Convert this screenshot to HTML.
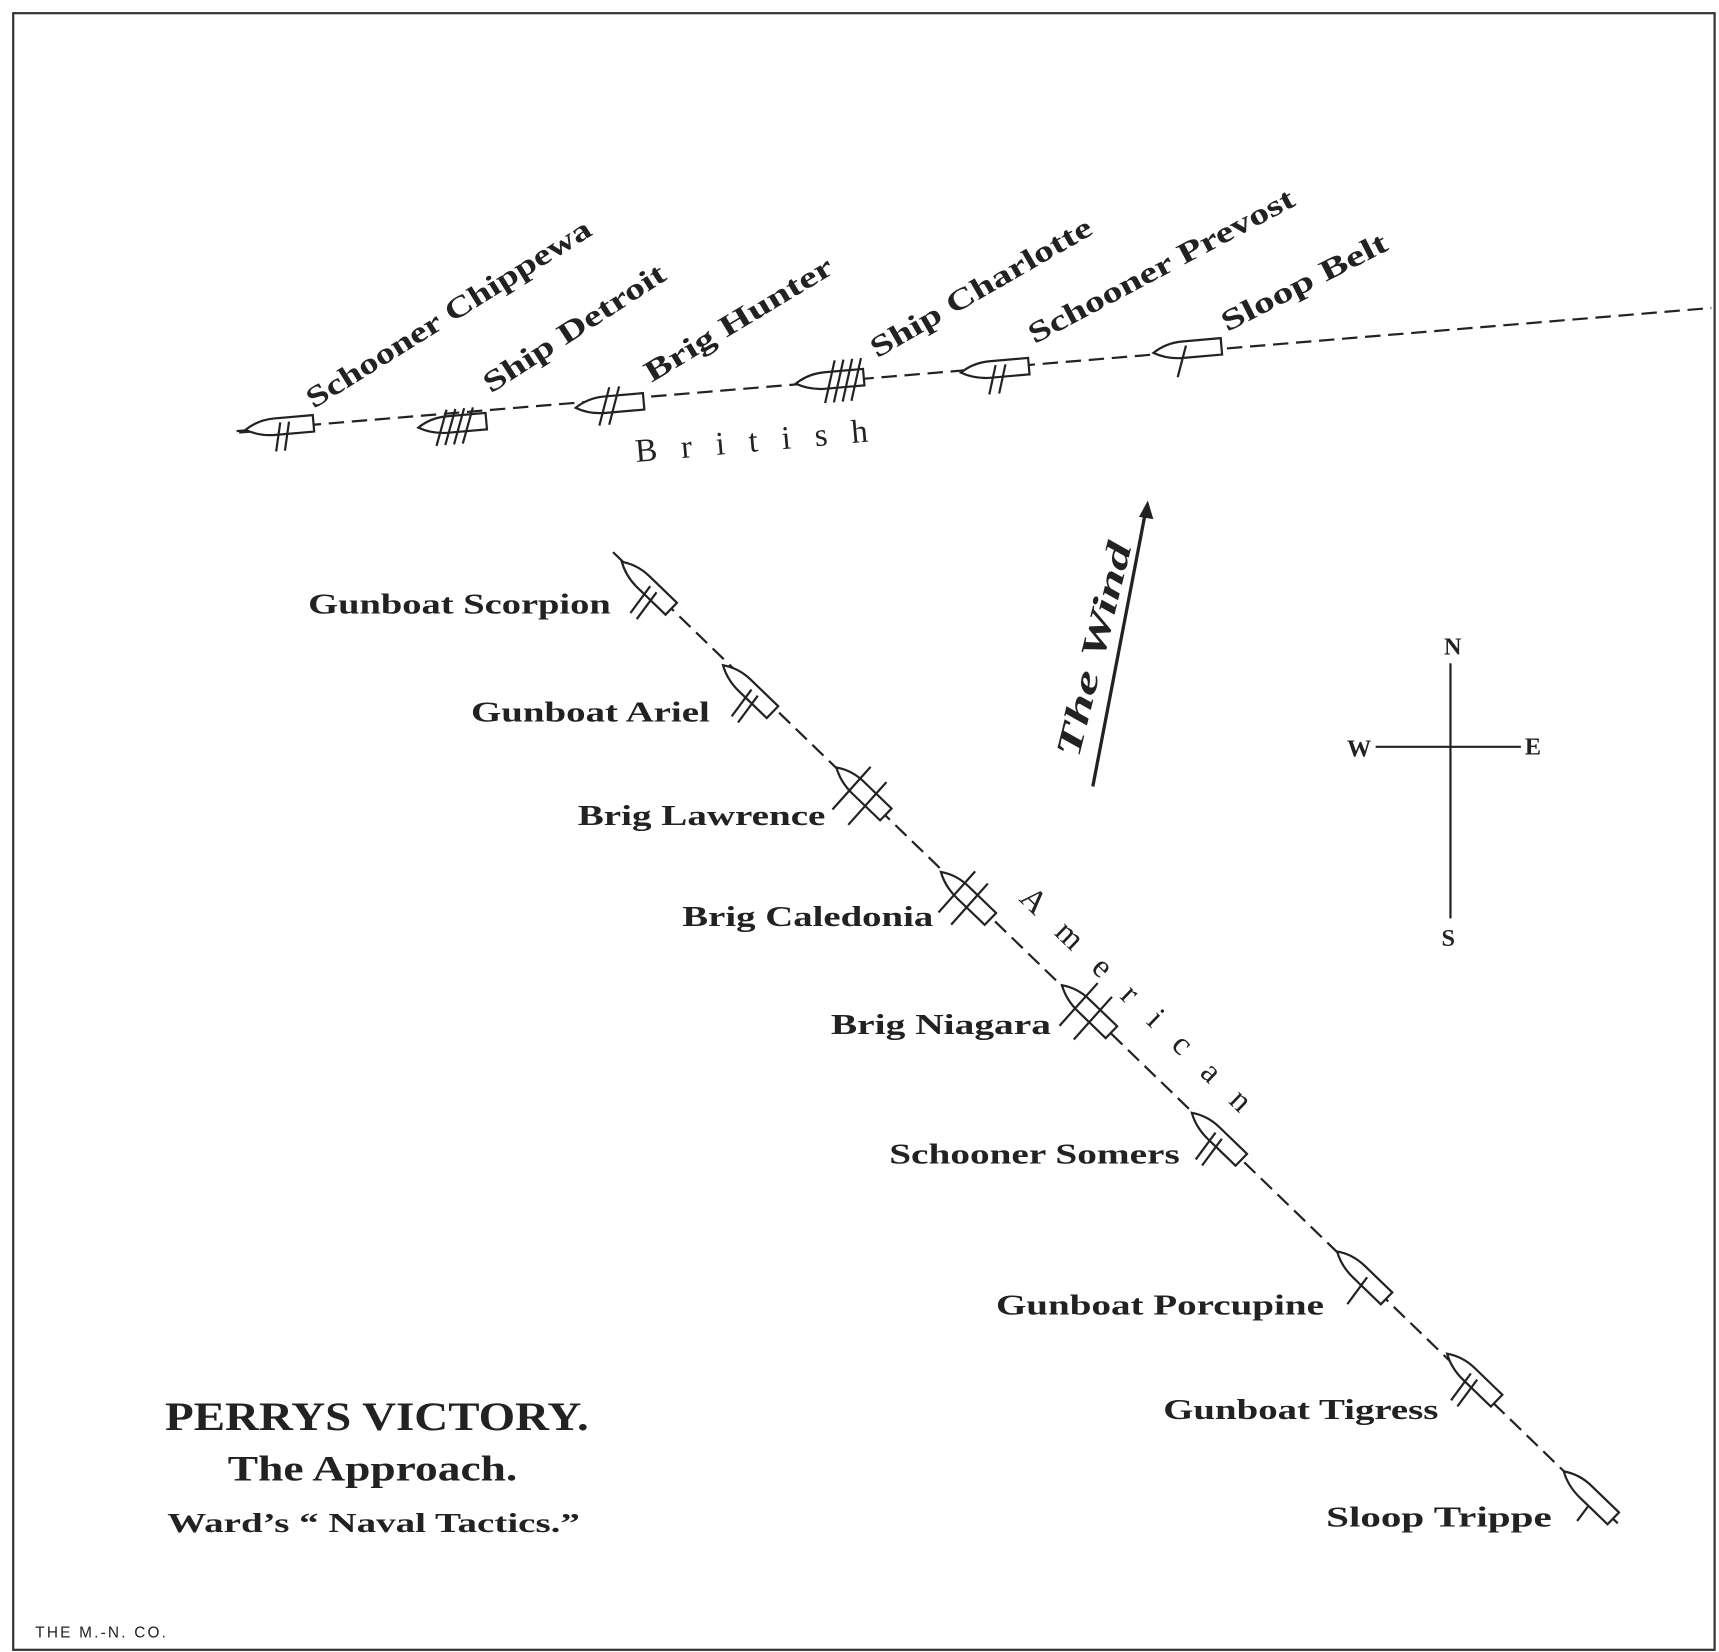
<!DOCTYPE html>
<html><head><meta charset="utf-8"><style>
html,body{margin:0;padding:0;background:#fff}
svg{display:block}
text{font-family:"Liberation Serif",serif;fill:#222}
.b{font-weight:bold}
</style></head><body>
<svg width="1719" height="1652" viewBox="0 0 1562 1502" preserveAspectRatio="none" xmlns="http://www.w3.org/2000/svg">
<defs>
<g id="hull"><path d="M-32,0 Q-20,-8 -5,-8 L30,-8 L30,7 L-5,7 Q-20,7 -32,0 Z" fill="#fff" stroke="#222" stroke-width="2"/></g>
</defs>
<rect x="12" y="12" width="1546" height="1488" fill="none" stroke="#333" stroke-width="2"/>
<line x1="215" y1="392" x2="1555" y2="280" stroke="#222" stroke-width="2" stroke-dasharray="14,7"/>
<g stroke="#222" stroke-width="2" fill="none">
<g transform="translate(255,388) rotate(-5)"><use href="#hull"/><line x1="0" y1="-4" x2="-6" y2="22"/><line x1="8" y1="-4" x2="2" y2="22"/><line x1="-38" y1="2" x2="-28" y2="2"/></g>
<g transform="translate(412,386) rotate(-5)"><use href="#hull"/><line x1="-5" y1="-14" x2="-17" y2="18"/><line x1="3" y1="-14" x2="-9" y2="18"/><line x1="11" y1="-14" x2="-1" y2="18"/><line x1="19" y1="-14" x2="7" y2="18"/></g>
<g transform="translate(555,368) rotate(-5)"><use href="#hull"/><line x1="0" y1="-16" x2="-12" y2="18"/><line x1="9" y1="-16" x2="-3" y2="18"/></g>
<g transform="translate(755,346) rotate(-5)"><use href="#hull"/><line x1="5" y1="-18" x2="-7" y2="20"/><line x1="13" y1="-18" x2="1" y2="20"/><line x1="21" y1="-18" x2="9" y2="20"/><line x1="29" y1="-18" x2="17" y2="20"/></g>
<g transform="translate(905,336) rotate(-5)"><use href="#hull"/><line x1="0" y1="-4" x2="-8" y2="22"/><line x1="9" y1="-4" x2="1" y2="22"/></g>
<g transform="translate(1080,318) rotate(-5)"><use href="#hull"/><line x1="-2" y1="-4" x2="-12" y2="24"/></g>
</g>
<g class="b" font-size="27">
<text transform="translate(285,372) rotate(-32)" textLength="300" lengthAdjust="spacingAndGlyphs">Schooner Chippewa</text>
<text transform="translate(446,358) rotate(-33)" textLength="192" lengthAdjust="spacingAndGlyphs">Ship Detroit</text>
<text transform="translate(592,348) rotate(-31)" textLength="195" lengthAdjust="spacingAndGlyphs">Brig Hunter</text>
<text transform="translate(797,326) rotate(-30)" textLength="228" lengthAdjust="spacingAndGlyphs">Ship Charlotte</text>
<text transform="translate(940,313) rotate(-28)" textLength="270" lengthAdjust="spacingAndGlyphs">Schooner Prevost</text>
<text transform="translate(1115,302) rotate(-27)" textLength="166" lengthAdjust="spacingAndGlyphs">Sloop Belt</text>
</g>
<text transform="translate(578,420) rotate(-5)" font-size="30" textLength="212" lengthAdjust="spacing">British</text>
<line x1="557" y1="502" x2="1470" y2="1385" stroke="#222" stroke-width="2" stroke-dasharray="14,7"/>
<g stroke="#222" stroke-width="2" fill="none">
<g transform="translate(588,533) rotate(44)"><use href="#hull"/><line x1="10" y1="-2" x2="14" y2="28"/><line x1="2" y1="-2" x2="6" y2="28"/></g>
<g transform="translate(680,627) rotate(44)"><use href="#hull"/><line x1="10" y1="-2" x2="14" y2="28"/><line x1="2" y1="-2" x2="6" y2="28"/></g>
<g transform="translate(783,720) rotate(44)"><use href="#hull"/><line x1="-10" y1="-22" x2="-8" y2="30"/><line x1="10" y1="-22" x2="12" y2="30"/></g>
<g transform="translate(878,815) rotate(44)"><use href="#hull"/><line x1="-10" y1="-22" x2="-8" y2="28"/><line x1="6" y1="-22" x2="8" y2="28"/></g>
<g transform="translate(988,918) rotate(44)"><use href="#hull"/><line x1="-10" y1="-24" x2="-8" y2="28"/><line x1="8" y1="-24" x2="10" y2="28"/></g>
<g transform="translate(1106,1034) rotate(44)"><use href="#hull"/><line x1="4" y1="-2" x2="8" y2="28"/><line x1="-4" y1="-2" x2="0" y2="28"/></g>
<g transform="translate(1238,1160) rotate(44)"><use href="#hull"/><line x1="4" y1="-2" x2="8" y2="28"/></g>
<g transform="translate(1338,1253) rotate(44)"><use href="#hull"/><line x1="4" y1="-2" x2="8" y2="28"/><line x1="-4" y1="-2" x2="0" y2="28"/></g>
<g transform="translate(1444,1360) rotate(44)"><use href="#hull"/><line x1="6" y1="8" x2="8" y2="24"/></g>
</g>
<g class="b" font-size="26">
<text x="280" y="558" textLength="275" lengthAdjust="spacingAndGlyphs">Gunboat Scorpion</text>
<text x="428" y="656" textLength="217" lengthAdjust="spacingAndGlyphs">Gunboat Ariel</text>
<text x="525" y="750" textLength="225" lengthAdjust="spacingAndGlyphs">Brig Lawrence</text>
<text x="620" y="842" textLength="228" lengthAdjust="spacingAndGlyphs">Brig Caledonia</text>
<text x="755" y="940" textLength="200" lengthAdjust="spacingAndGlyphs">Brig Niagara</text>
<text x="808" y="1058" textLength="264" lengthAdjust="spacingAndGlyphs">Schooner Somers</text>
<text x="905" y="1195" textLength="298" lengthAdjust="spacingAndGlyphs">Gunboat Porcupine</text>
<text x="1057" y="1290" textLength="250" lengthAdjust="spacingAndGlyphs">Gunboat Tigress</text>
<text x="1205" y="1388" textLength="205" lengthAdjust="spacingAndGlyphs">Sloop Trippe</text>
</g>
<text transform="translate(925,818) rotate(44)" font-size="30" textLength="280" lengthAdjust="spacing">American</text>
<line x1="993" y1="715" x2="1040" y2="470" stroke="#222" stroke-width="3"/>
<path d="M1043,455 L1048,472 L1035,470 Z" fill="#222"/>
<text transform="translate(980,690) rotate(-76)" class="b" font-size="32" font-style="italic" textLength="200" lengthAdjust="spacingAndGlyphs">The Wind</text>
<g stroke="#222" stroke-width="2">
<line x1="1318" y1="603" x2="1318" y2="835"/>
<line x1="1250" y1="679" x2="1382" y2="679"/>
</g>
<g class="b" font-size="22" text-anchor="middle">
<text x="1320" y="595">N</text>
<text x="1316" y="860">S</text>
<text x="1235" y="688">W</text>
<text x="1393" y="686">E</text>
</g>
<g class="b">
<text x="150" y="1300" font-size="37" textLength="385" lengthAdjust="spacingAndGlyphs">PERRYS VICTORY.</text>
<text x="207" y="1346" font-size="33" textLength="263" lengthAdjust="spacingAndGlyphs">The Approach.</text>
<text x="152" y="1393" font-size="25" textLength="375" lengthAdjust="spacingAndGlyphs">Ward’s “ Naval Tactics.”</text>
</g>
<text x="32" y="1489" font-size="14" letter-spacing="2" style="font-family:'Liberation Sans',sans-serif">THE M.-N. CO.</text>
</svg>
</body></html>
